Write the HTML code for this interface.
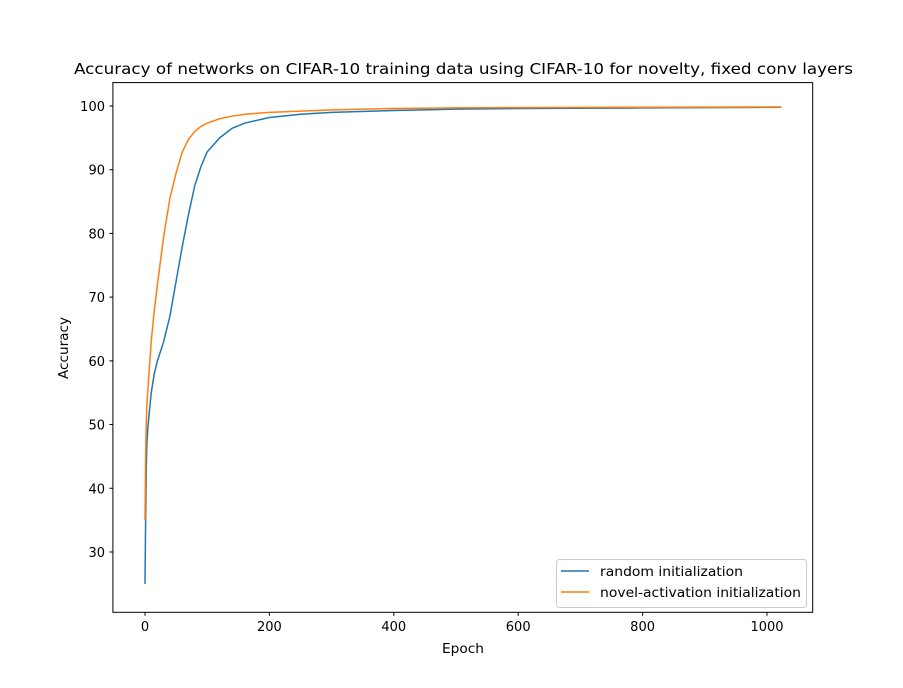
<!DOCTYPE html>
<html><head><meta charset="utf-8"><style>
html,body{margin:0;padding:0;background:#fff;}
svg{display:block;font-family:"DejaVu Sans","Liberation Sans",sans-serif;}
</style></head><body>
<svg id="chart" width="903" height="688" viewBox="0 0 903 688">
<rect width="903" height="688" fill="#fff"/>
<text x="74" y="74" font-size="15.5" textLength="779" lengthAdjust="spacingAndGlyphs">Accuracy of networks on CIFAR-10 training data using CIFAR-10 for novelty, fixed conv layers</text>
<g id="ticks"></g>
<g id="series"></g>
<rect x="112.9" y="82.6" width="699.8" height="529.7" fill="none" stroke="#000" stroke-width="1"/>
<text x="442" y="653" font-size="13" textLength="42" lengthAdjust="spacingAndGlyphs">Epoch</text>
<text x="68" y="348" font-size="13" text-anchor="middle" textLength="62" lengthAdjust="spacingAndGlyphs" transform="rotate(-90 68 348)">Accuracy</text>
<g>
<rect x="556.5" y="559.5" width="250" height="48" rx="3" fill="#fff" fill-opacity="0.8" stroke="#ccc"/>
<line x1="561" y1="571" x2="589" y2="571" stroke="#1f77b4" stroke-width="1.5"/>
<text x="600" y="576" font-size="13" textLength="143" lengthAdjust="spacingAndGlyphs">random initialization</text>
<line x1="561" y1="592" x2="589" y2="592" stroke="#ff7f0e" stroke-width="1.5"/>
<text x="600" y="597" font-size="13" textLength="201" lengthAdjust="spacingAndGlyphs">novel-activation initialization</text>
</g>
</svg>
<script>
const epochs = [0,1,2,3,5,10,15,20,30,40,50,60,70,80,90,100,120,140,160,200,250,300,400,500,600,800,1023];
const randomAcc = [25,35,43,47,50,55,58,60,63,67,72.5,78,83,87.5,90.5,92.8,95,96.5,97.3,98.2,98.7,99,99.3,99.5,99.6,99.7,99.8];
const novelAcc = [35,45,50,53,56,63,68,72,79.5,85.5,89.5,92.8,94.8,96,96.8,97.3,98,98.4,98.7,99,99.2,99.4,99.6,99.7,99.75,99.8,99.85];
const xTicks = [0,200,400,600,800,1000];
const yTicks = [30,40,50,60,70,80,90,100];
const NS="http://www.w3.org/2000/svg";
const xS = v => 145 + v*0.622;
const yS = v => 106 + (100-v)*6.371;
const tg=document.getElementById('ticks');
xTicks.forEach(t=>{
  const l=document.createElementNS(NS,'line');
  l.setAttribute('x1',xS(t));l.setAttribute('x2',xS(t));l.setAttribute('y1',612.3);l.setAttribute('y2',615.8);l.setAttribute('stroke','#000');
  
  
  tg.appendChild(l);
  const tx=document.createElementNS(NS,'text');
  tx.setAttribute('x',xS(t));tx.setAttribute('y',631);tx.setAttribute('font-size','13');tx.setAttribute('text-anchor','middle');tx.textContent=t;
  
  
  tg.appendChild(tx);
});
yTicks.forEach(t=>{
  const l=document.createElementNS(NS,'line');
  l.setAttribute('x1',109.4);l.setAttribute('x2',112.9);l.setAttribute('y1',yS(t));l.setAttribute('y2',yS(t));l.setAttribute('stroke','#000');
  
  
  tg.appendChild(l);
  const tx=document.createElementNS(NS,'text');
  tx.setAttribute('x',105);tx.setAttribute('y',yS(t)+5);tx.setAttribute('font-size','13');tx.setAttribute('text-anchor','end');tx.textContent=t;
  
  
  tg.appendChild(tx);
});
const sg=document.getElementById('series');
function draw(vals,color,name){
  const p=document.createElementNS(NS,'polyline');
  p.setAttribute('points',epochs.map((e,i)=>xS(e)+','+yS(vals[i])).join(' '));
  p.setAttribute('fill','none');p.setAttribute('stroke',color);p.setAttribute('stroke-width','1.5');
  
  
  sg.appendChild(p);
}
draw(randomAcc,'#1f77b4','random-initialization-line');
draw(novelAcc,'#ff7f0e','novel-activation-line');
</script>
</body></html>
